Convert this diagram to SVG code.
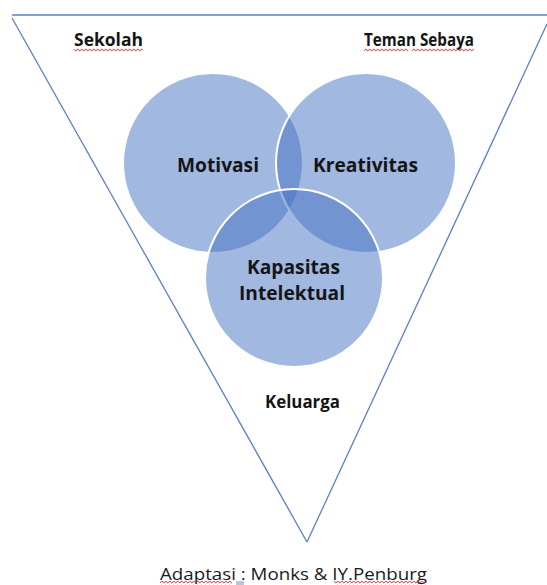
<svg xmlns="http://www.w3.org/2000/svg" width="547" height="585" viewBox="0 0 547 585">
  <style>
    .edge { fill: none; stroke: #5a7fc8; stroke-width: 1.3; }
    .circle { fill: #4472C4; fill-opacity: 0.5; stroke: #ffffff; stroke-width: 2; }
    .lbl { font-family: "Open Sans", "Liberation Sans", sans-serif; font-weight: bold; fill: #151515; }
    .cap { font-family: "Open Sans", "Liberation Sans", sans-serif; fill: #1a1a1a; }
    .squig { fill: url(#squiggle); }
  </style>
  <defs>
    <pattern id="squiggle" x="0" y="0" width="4" height="4" patternUnits="userSpaceOnUse">
      <polyline points="0,3 1,1.5 2,1 3,2.5 4,3" fill="none" stroke="#d03030" stroke-width="0.9"/>
    </pattern>
  </defs>
  <rect x="0" y="0" width="547" height="585" fill="#ffffff"/>

  <g id="connectors">
    <line class="edge" x1="12" y1="15" x2="547" y2="15"/>
    <line class="edge" x1="12" y1="18" x2="307" y2="542"/>
    <line class="edge" x1="547" y1="24" x2="307" y2="542"/>
  </g>

  <g id="motivasi">
    <circle class="circle" cx="213" cy="163" r="90"/>
    <text class="lbl" x="218" y="172" font-size="20" text-anchor="middle" textLength="82" lengthAdjust="spacingAndGlyphs">Motivasi</text>
  </g>
  <g id="kreativitas">
    <circle class="circle" cx="366" cy="163" r="90"/>
    <text class="lbl" x="365.5" y="172" font-size="20" text-anchor="middle" textLength="105" lengthAdjust="spacingAndGlyphs">Kreativitas</text>
  </g>
  <g id="kapasitas">
    <circle class="circle" cx="294" cy="278" r="89"/>
    <text class="lbl" x="293.5" y="274" font-size="20" text-anchor="middle" textLength="93" lengthAdjust="spacingAndGlyphs">Kapasitas</text>
    <text class="lbl" x="292" y="300" font-size="20" text-anchor="middle" textLength="106" lengthAdjust="spacingAndGlyphs">Intelektual</text>
  </g>

  <g id="sekolah">
    <text class="lbl" x="74" y="46" font-size="17" textLength="69" lengthAdjust="spacingAndGlyphs">Sekolah</text>
    <rect class="squig" x="74" y="48" width="69" height="4"/>
  </g>
  <g id="teman-sebaya">
    <text class="lbl" x="364" y="46" font-size="17" textLength="110" lengthAdjust="spacingAndGlyphs">Teman Sebaya</text>
    <rect class="squig" x="364" y="48" width="44" height="4"/>
    <rect class="squig" x="412" y="48" width="62" height="4"/>
  </g>
  <g id="keluarga">
    <text class="lbl" x="265" y="408" font-size="17" textLength="75" lengthAdjust="spacingAndGlyphs">Keluarga</text>
  </g>
  <g id="caption">
    <text class="cap" x="160" y="580" font-size="17" textLength="267" lengthAdjust="spacingAndGlyphs">Adaptasi : Monks &amp; IY.Penburg</text>
    <rect class="squig" x="160" y="581" width="72" height="4"/>
    <rect class="squig" x="334" y="581" width="93" height="4"/>
    <line x1="236" y1="582" x2="244" y2="582" stroke="#4472C4" stroke-width="0.8"/>
    <line x1="236" y1="584" x2="244" y2="584" stroke="#4472C4" stroke-width="0.8"/>
  </g>
</svg>
